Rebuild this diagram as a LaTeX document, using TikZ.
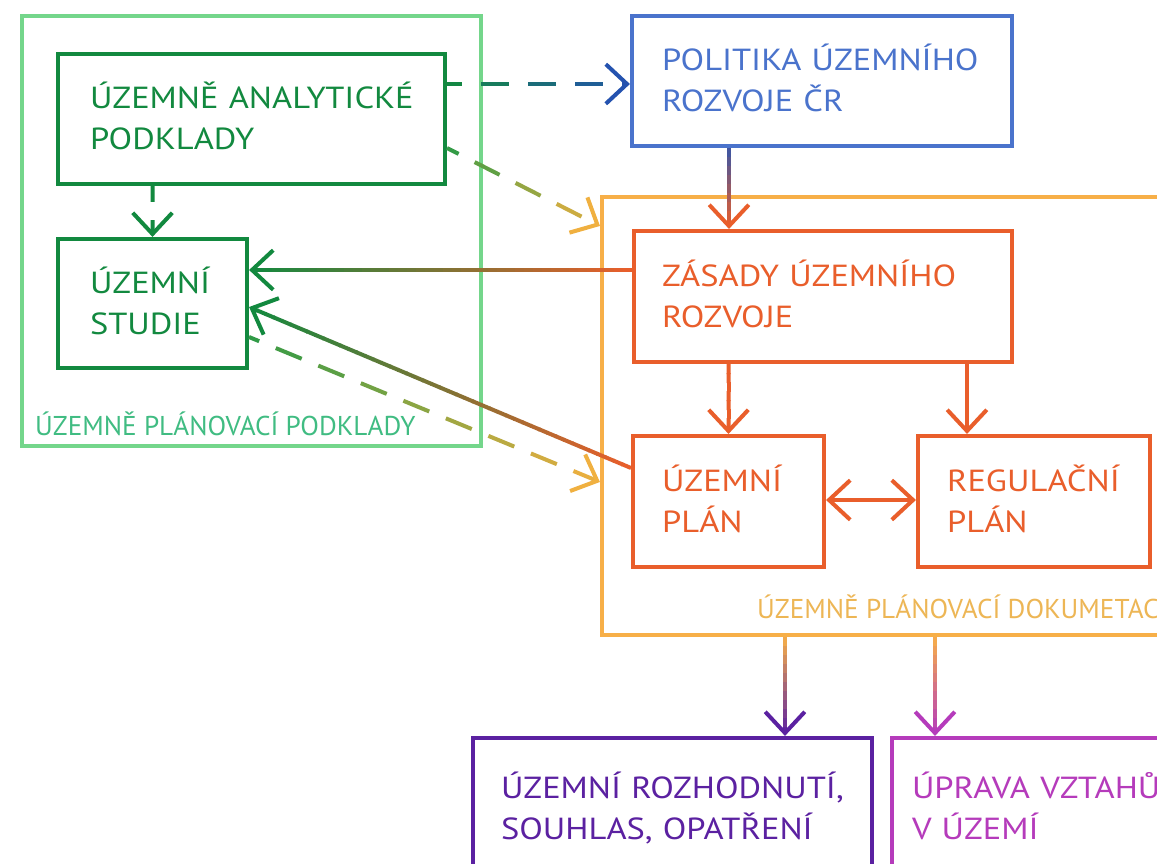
\documentclass[tikz,border=0pt]{standalone}
\usepackage{fontspec}
\newfontfamily\dfont{PT Sans}
\newfontfamily\wfont[FakeStretch=1.13]{PT Sans}
\usetikzlibrary{calc}
\definecolor{lgreen}{HTML}{74D68B}
\definecolor{dgreen}{HTML}{12893F}
\definecolor{mgreen}{HTML}{2E9A46}
\definecolor{lbltxt}{HTML}{40BC82}
\definecolor{bblue}{HTML}{4A73CC}
\definecolor{dblue}{HTML}{2452AF}
\definecolor{sblue}{HTML}{3A55A5}
\definecolor{lorange}{HTML}{F7AF48}
\definecolor{yorange}{HTML}{F0B040}
\definecolor{rorange}{HTML}{E95E2B}
\definecolor{lbltwo}{HTML}{EDB655}
\definecolor{ppurple}{HTML}{5B21A1}
\definecolor{mmag}{HTML}{B53BBB}
\tikzset{
  bx/.style={draw, line width=4pt, inner xsep=0pt, inner ysep=0pt, align=left,
    text height=21pt, text depth=41pt,
    font=\wfont\fontsize{30.5}{41}\selectfont,
    execute at begin node={\hyphenpenalty=10000\exhyphenpenalty=10000}},
  frame/.style={draw, line width=4pt, inner sep=0pt},
  lbl/.style={inner sep=0pt, anchor=base west, font=\dfont\fontsize{27.2}{30}\selectfont},
}
% gradient (dashed) line: #1 start, #2 end, #3 start colour, #4 end colour, #5 dash, #6 gap, #7 phase
\newcommand\gline[7]{%
  \path let \p1=($(#2)-(#1)$) in \pgfextra{\pgfmathsetmacro\gtmp{veclen(\x1,\y1)}\global\let\glen\gtmp};
  \pgfmathsetmacro\gper{#5+#6}%
  \pgfmathtruncatemacro\gn{ceil((\glen+#7)/\gper)}%
  \foreach \gi in {0,...,\gn}{%
    \pgfmathsetmacro\gS{max(0,\gi*\gper-#7)}%
    \pgfmathsetmacro\gE{min(\glen,\gi*\gper-#7+#5)}%
    \ifdim\gS pt<\gE pt
      \pgfmathsetmacro\gA{\gS/\glen}%
      \pgfmathsetmacro\gB{\gE/\glen}%
      \pgfmathtruncatemacro\gC{100*((\gA+\gB)/2)}%
      \draw[line width=4pt, line cap=butt, color={#4!\gC!#3}] ($(#1)!\gA!(#2)$) -- ($(#1)!\gB!(#2)$);
    \fi
  }%
}
% open chevron tip: #1 from, #2 tip, #3 colour
\newcommand\chev[3]{%
  \draw[line width=4pt, color=#3, line join=miter, line cap=butt]
    ($(#2)!29pt!43:(#1)$) -- (#2) -- ($(#2)!29pt!-43:(#1)$);
}
\newcommand\garrow[7]{%
  \coordinate (gtip) at ($(#2)!3pt!(#1)$);
  \gline{#1}{gtip}{#3}{#4}{#5}{#6}{#7}%
  \chev{#1}{gtip}{#4}%
}
\begin{document}
\begin{tikzpicture}[x=1pt,y=-1pt]
\useasboundingbox (0,0) rectangle (1157,864);
\fill[white] (0,0) rectangle (1157,864);
\clip (0,0) rectangle (1157,864);

% group frames
\node[frame, lgreen, minimum width=459pt, minimum height=430pt] (pp) at (251.5,231) {};
\node[lbl, lbltxt] (pplbl) at (35,435) {ÚZEMNĚ PLÁNOVACÍ PODKLADY};
\node[frame, lorange, minimum width=598pt, minimum height=438pt] (pd) at (901,416) {};
\node[lbl, lbltwo] (pdlbl) at (757,618) {ÚZEMNĚ PLÁNOVACÍ DOKUMETACE};

% boxes
\node[bx, dgreen, minimum width=387pt, minimum height=130pt, text width=323pt] (uap) at (251.5,119) {ÚZEMNĚ~ANALYTICKÉ\\PODKLADY};
\node[bx, dgreen, minimum width=189pt, minimum height=129pt, text width=125pt] (us) at (152.5,303.5) {ÚZEMNÍ\\STUDIE};
\node[bx, bblue, minimum width=380pt, minimum height=130pt, text width=320pt] (pol) at (822,81) {POLITIKA~ÚZEMNÍHO\\ROZVOJE~ČR};
\node[bx, rorange, minimum width=378pt, minimum height=131pt, text width=322pt] (zur) at (823,296.5) {ZÁSADY~ÚZEMNÍHO\\ROZVOJE};
\node[bx, rorange, minimum width=191pt, minimum height=131pt, text width=133pt] (up) at (728.5,501.5) {ÚZEMNÍ\\PLÁN};
\node[bx, rorange, minimum width=232pt, minimum height=131pt, text width=174pt] (rp) at (1034,501.5) {REGULAČNÍ\\PLÁN};
\node[bx, ppurple, minimum width=399pt, minimum height=140pt, text width=343pt] (ur) at (672.5,808) {ÚZEMNÍ~ROZHODNUTÍ,\\SOUHLAS,~OPATŘENÍ};
\node[bx, mmag, minimum width=358pt, minimum height=140pt, text width=318pt] (uv) at (1071,808) {ÚPRAVA~VZTAHŮ\\V~ÚZEMÍ};

% connectors
\coordinate (a1) at (uap.east |- 0,84);
\coordinate (a2) at (pol.west |- 0,84);
\garrow{a1}{a2}{dgreen}{dblue}{28}{19}{13}

\coordinate (b1) at (uap.east |- 0,148);
\coordinate (b2) at (pd.west |- 0,226);
\garrow{b1}{b2}{mgreen}{yorange}{28}{18}{15}

\coordinate (c1) at (us.north |- uap.south);
\coordinate (c2) at (us.north);
\garrow{c1}{c2}{dgreen}{dgreen}{16}{18}{0}

\coordinate (d1) at (us.east |- 0,337);
\coordinate (d2) at (pd.west |- 0,482);
\garrow{d1}{d2}{mgreen}{yorange}{28}{18}{17}

\coordinate (e1) at (zur.west |- 0,270);
\coordinate (e2) at (us.east |- 0,270);
\garrow{e1}{e2}{rorange}{dgreen}{10}{-1}{0}

\coordinate (f1) at (up.west |- 0,468);
\coordinate (f2) at (us.east |- 0,307);
\garrow{f1}{f2}{rorange}{dgreen}{10}{-1}{0}

\coordinate (g1) at (pol.south -| 729,0);
\coordinate (g2) at (zur.north -| 729,0);
\garrow{g1}{g2}{sblue}{rorange}{10}{-1}{0}

\coordinate (h1) at (zur.south -| up.north);
\coordinate (h2) at (up.north);
\garrow{h1}{h2}{rorange}{rorange}{10}{-1}{0}

\coordinate (i1) at (zur.south -| 967,0);
\coordinate (i2) at (rp.north -| 967,0);
\garrow{i1}{i2}{rorange}{rorange}{10}{-1}{0}

\coordinate (j1) at (up.east |- 0,500);
\coordinate (j2) at (rp.west |- 0,500);
\coordinate (j1t) at ($(j1)!3pt!(j2)$);
\coordinate (j2t) at ($(j2)!3pt!(j1)$);
\draw[line width=4pt, rorange] (j1t) -- (j2t);
\chev{j2t}{j1t}{rorange}
\chev{j1t}{j2t}{rorange}

\coordinate (k1) at (pd.south -| 785,0);
\coordinate (k2) at (ur.north -| 785,0);
\garrow{k1}{k2}{lorange}{ppurple}{10}{-1}{0}

\coordinate (l1) at (pd.south -| 935,0);
\coordinate (l2) at (uv.north -| 935,0);
\garrow{l1}{l2}{lorange}{mmag}{10}{-1}{0}
\end{tikzpicture}
\end{document}
